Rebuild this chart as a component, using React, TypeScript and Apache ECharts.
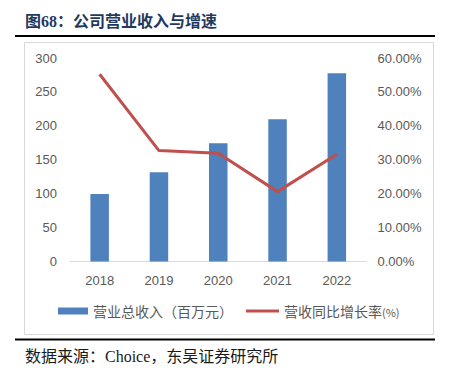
import React, { useEffect, useRef } from "react";
import * as echarts from "echarts";

const categories = ["2018", "2019", "2020", "2021", "2022"];
const revenue = [99.5, 131.5, 174.2, 209.6, 277.4];
const growth = [55.2, 32.7, 31.9, 20.6, 31.6];
const leftTicks = { min: 0, max: 300, interval: 50 };
const rightTicks = { min: 0, max: 60, interval: 10 };
const titleText = "图68：公司营业收入与增速";
const sourceText = "数据来源：Choice，东吴证券研究所";
const barName = "营业总收入（百万元）";
const lineName = "营收同比增长率";

export default function App() {
  const ref = useRef<HTMLDivElement>(null);
  useEffect(() => {
    document.body.style.margin = "0";
    if (!ref.current) return;
    const chart = echarts.init(ref.current, undefined, { renderer: "svg" });
    const axisFont = "'Liberation Sans', Arial, sans-serif";
    const cjk = "'Noto Sans CJK SC', sans-serif";
    chart.setOption({
      animation: false,
      backgroundColor: "#ffffff",
      grid: { left: 70, top: 58, width: 296.5, height: 203.5, containLabel: false },
      xAxis: {
        type: "category",
        data: categories,
        boundaryGap: true,
        axisLine: { lineStyle: { color: "#d9d9d9", width: 1 } },
        axisTick: { show: false },
        axisLabel: { color: "#595959", fontSize: 13, margin: 12, fontFamily: axisFont },
      },
      yAxis: [
        {
          type: "value",
          min: leftTicks.min,
          max: leftTicks.max,
          interval: leftTicks.interval,
          splitLine: { show: false },
          axisLine: { show: false },
          axisTick: { show: false },
          axisLabel: { color: "#595959", fontSize: 13, margin: 13, fontFamily: axisFont },
        },
        {
          type: "value",
          min: rightTicks.min,
          max: rightTicks.max,
          interval: rightTicks.interval,
          position: "right",
          splitLine: { show: false },
          axisLine: { show: false },
          axisTick: { show: false },
          axisLabel: {
            color: "#595959",
            fontSize: 13,
            margin: 11,
            fontFamily: axisFont,
            formatter: (v: number) => v.toFixed(2) + "%",
          },
        },
      ],
      legend: [
        {
          data: [barName],
          left: 58,
          top: 304,
          padding: 0,
          icon: "rect",
          itemWidth: 30,
          itemHeight: 7,
          textStyle: { color: "#595959", fontSize: 14, fontFamily: cjk },
        },
        {
          data: [lineName],
          left: 246,
          top: 304,
          padding: 0,
          icon: "rect",
          itemWidth: 33,
          itemHeight: 3,
          formatter: (n: string) => "{a|" + n + "}{b|(%)}",
          textStyle: {
            color: "#595959",
            fontFamily: cjk,
            rich: {
              a: { fontSize: 14, color: "#595959", fontFamily: cjk },
              b: { fontSize: 11, color: "#595959", fontFamily: cjk, padding: [2, 0, 0, 0] },
            },
          },
        },
      ],
      series: [
        {
          name: barName,
          type: "bar",
          data: revenue,
          barWidth: 18.5,
          itemStyle: { color: "#4f81bd" },
        },
        {
          name: lineName,
          type: "line",
          yAxisIndex: 1,
          data: growth,
          symbol: "none",
          lineStyle: { color: "#c0504d", width: 3 },
          itemStyle: { color: "#c0504d" },
        },
      ],
      graphic: [
        {
          type: "rect",
          shape: { x: 24.5, y: 42.5, width: 409, height: 292 },
          style: { fill: "none", stroke: "#d9d9d9", lineWidth: 1 },
          silent: true,
        },
        {
          type: "line",
          shape: { x1: 15, y1: 36, x2: 435, y2: 36 },
          style: { stroke: "#000000", lineWidth: 2 },
        },
        {
          type: "line",
          shape: { x1: 15, y1: 339.5, x2: 435, y2: 339.5 },
          style: { stroke: "#000000", lineWidth: 2 },
        },
        {
          type: "text",
          x: 25,
          y: 21,
          style: {
            text: titleText,
            fill: "#1f3a60",
            font: "bold 16px 'Liberation Serif', 'Noto Sans CJK SC', serif",
            verticalAlign: "middle",
            align: "left",
          },
        },
        {
          type: "text",
          x: 25,
          y: 356,
          style: {
            text: sourceText,
            fill: "#1a1a1a",
            font: "16px 'Liberation Serif', 'Noto Sans CJK SC', serif",
            verticalAlign: "middle",
            align: "left",
          },
        },
      ],
    });
    return () => chart.dispose();
  }, []);
  return <div ref={ref} style={{ width: 450, height: 368 }} />;
}
